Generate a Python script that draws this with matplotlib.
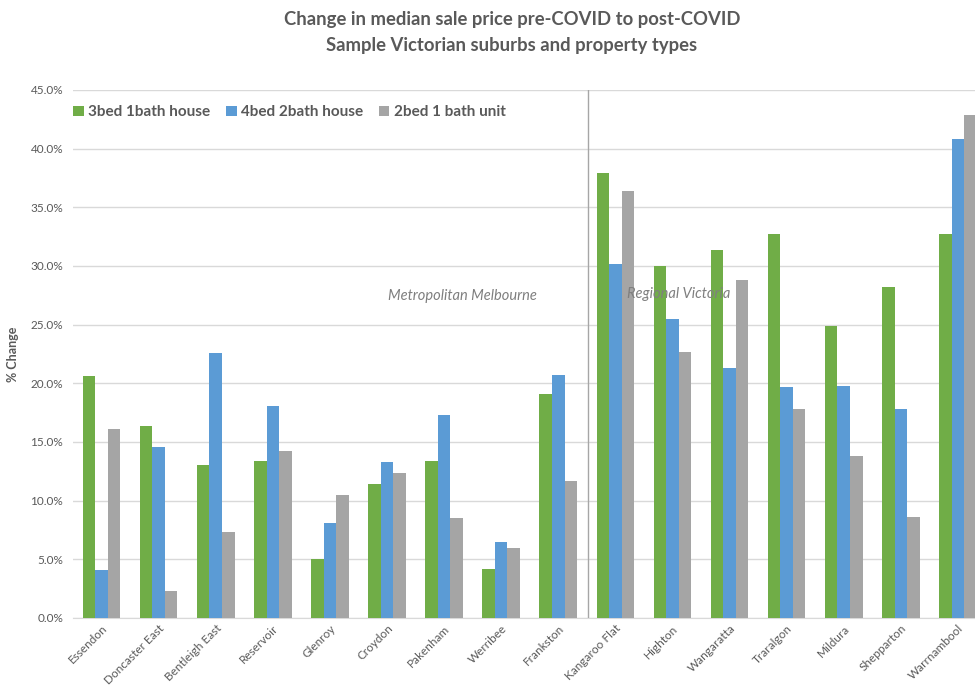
import numpy as np
import matplotlib
matplotlib.use('Agg')
import matplotlib.pyplot as plt
from matplotlib.ticker import FuncFormatter

plt.rcParams['font.family'] = ['Lato', 'DejaVu Sans']

# suburbs (metro first, then regional)
suburbs = ['Essendon', 'Doncaster East', 'Bentleigh East', 'Reservoir', 'Glenroy',
           'Croydon', 'Pakenham', 'Werribee', 'Frankston', 'Kangaroo Flat',
           'Highton', 'Wangaratta', 'Traralgon', 'Mildura', 'Shepparton',
           'Warrnambool']

# % change in median sale price
house_3b1b = [20.6, 16.4, 13.0, 13.35, 5.0, 11.4, 13.35, 4.2, 19.1, 37.9,
              30.0, 31.4, 32.7, 24.9, 28.2, 32.7]
house_4b2b = [4.05, 14.6, 22.6, 18.1, 8.1, 13.3, 17.3, 6.5, 20.7, 30.2,
              25.5, 21.3, 19.7, 19.8, 17.85, 40.85]
unit_2b1b = [16.1, 2.3, 7.3, 14.2, 10.5, 12.4, 8.55, 5.95, 11.65, 36.4,
             22.65, 28.8, 17.8, 13.8, 8.6, 42.9]

series_names = ['3bed 1bath house', '4bed 2bath house', '2bed 1 bath unit']
colors = ['#70ad47', '#5b9bd5', '#a5a5a5']
text_col = '#595959'

fig = plt.figure(figsize=[9.75, 6.9], dpi=100)
ax = fig.add_axes([73/975, 1 - 618/690, 1 - 73/975, (618 - 90)/690])

x = np.arange(len(suburbs))
w = 0.22
for i, (vals, name) in enumerate(zip([house_3b1b, house_4b2b, unit_2b1b], series_names)):
    ax.bar(x + (i - 1)*w, vals, width=w, color=colors[i], label=name, zorder=3)

ax.set_xlim(-0.5, 15.30)
ax.set_ylim(0, 45)
ax.set_yticks(np.arange(0, 46, 5))
ax.yaxis.set_major_formatter(FuncFormatter(lambda v, p: '{:.1f}%'.format(v)))
ax.grid(axis='y', color='#d9d9d9', linewidth=1, zorder=0)

for s in ['top', 'right', 'left']:
    ax.spines[s].set_visible(False)
ax.spines['bottom'].set_color('#d9d9d9')
ax.tick_params(axis='both', length=0, labelsize=8.5, labelcolor=text_col)
ax.tick_params(axis='y', pad=7)

ax.set_xticks(x)
ax.set_xticklabels(suburbs, rotation=45, ha='right', rotation_mode='anchor')

ax.set_ylabel('% Change', fontsize=9, fontweight='bold', color=text_col, labelpad=8)

# metro / regional divider
ax.axvline(8.52, color='#a6a6a6', linewidth=1, zorder=4)
ax.text(6.33, 27.45, 'Metropolitan Melbourne', fontsize=10.5, style='italic',
        color='#7f7f7f', ha='center', va='center')
ax.text(9.2, 27.6, 'Regional Victoria', fontsize=10.5, style='italic',
        color='#7f7f7f', ha='left', va='center', zorder=5)

leg = ax.legend(loc='upper left', bbox_to_anchor=(-0.015, 0.997), ncol=3, frameon=False,
                handlelength=0.7, handleheight=0.7, handletextpad=0.3,
                columnspacing=1.0, prop={'weight': 'bold', 'size': 11})
for t in leg.get_texts():
    t.set_color(text_col)

fig.text(512/975, 1 - 20/690, 'Change in median sale price pre-COVID to post-COVID',
         ha='center', va='center', fontsize=13.3, fontweight='bold', color=text_col)
fig.text(512/975, 1 - 46/690, 'Sample Victorian suburbs and property types',
         ha='center', va='center', fontsize=13.3, fontweight='bold', color=text_col)

fig.savefig('out.png', dpi=100)
